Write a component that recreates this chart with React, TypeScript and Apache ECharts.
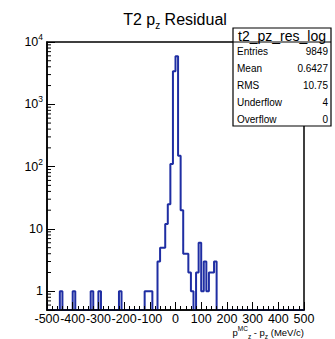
import React, { useEffect, useRef } from "react";
import * as echarts from "echarts";

const X_MIN = -500;
const X_MAX = 500;
const X_INTERVAL = 100;
const BIN_WIDTH = 10;
const Y_MIN = 0.5;
const Y_MAX = 10000;

// non-empty bins: lower edge and count
const binStarts = [-450, -400, -330, -300, -220, -120, -110, -100, -70, -60, -50, -40, -30, -20, -10, 0, 10, 20, 30, 40, 50, 60, 80, 90, 100, 110, 120, 130, 140, 150];
const binCounts = [1, 1, 1, 1, 1, 1, 1, 1, 3, 5, 5, 12, 25, 110, 3400, 5900, 150, 20, 4, 4, 2, 1, 2, 6, 1, 3, 1, 2, 2, 3];

const statsTitle = "t2_pz_res_log";
const statsLabels = ["Entries", "Mean", "RMS", "Underflow", "Overflow"];
const statsValues = ["9849", "0.6427", "10.75", "4", "0"];

const FONT = "'Liberation Sans', Arial, sans-serif";
const LINE_COLOR = "#1f2ea3";

export default function App() {
  const ref = useRef<HTMLDivElement>(null);

  useEffect(() => {
    if (!ref.current) return;
    const chart = echarts.init(ref.current, null, { renderer: "svg" });

    const nBins = Math.round((X_MAX - X_MIN) / BIN_WIDTH);
    const counts: number[] = new Array(nBins).fill(0);
    binStarts.forEach((s, i) => {
      const idx = Math.round((s - X_MIN) / BIN_WIDTH);
      counts[idx] = binCounts[i];
    });
    const stepData: number[][] = [[X_MIN, Y_MIN]];
    counts.forEach((c, i) => {
      const lo = X_MIN + i * BIN_WIDTH;
      const v = c > 0 ? c : Y_MIN;
      stepData.push([lo, v], [lo + BIN_WIDTH, v]);
    });
    stepData.push([X_MAX, Y_MIN]);

    const minorY: number[][] = [];
    for (let e = -1; e < 4; e++) {
      for (let m = 2; m <= 9; m++) {
        const v = m * Math.pow(10, e);
        if (v > Y_MIN && v < Y_MAX) minorY.push([X_MIN, v]);
      }
    }

    const statsGraphics: any[] = [];
    const bx = 233, by = 28, bw = 98, bh = 98, sep = 42;
    statsGraphics.push({
      type: "rect",
      z: 100,
      shape: { x: bx, y: by, width: bw, height: bh },
      style: { fill: "#fff", stroke: "#000", lineWidth: 1.2 },
    });
    statsGraphics.push({
      type: "line",
      z: 101,
      shape: { x1: bx, y1: sep, x2: bx + bw, y2: sep },
      style: { stroke: "#000", lineWidth: 1 },
    });
    statsGraphics.push({
      type: "text",
      z: 102,
      style: {
        text: statsTitle,
        x: bx + bw / 2,
        y: (by + sep) / 2 + 0.5,
        align: "center",
        verticalAlign: "middle",
        font: `14px ${FONT}`,
        fill: "#000",
      },
    });
    statsLabels.forEach((lab, i) => {
      const y = 51 + i * 17.1;
      statsGraphics.push({
        type: "text",
        z: 102,
        style: { text: lab, x: bx + 4, y, align: "left", verticalAlign: "middle", font: `10px ${FONT}`, fill: "#000" },
      });
      statsGraphics.push({
        type: "text",
        z: 102,
        style: { text: statsValues[i], x: bx + bw - 3, y, align: "right", verticalAlign: "middle", font: `10px ${FONT}`, fill: "#000" },
      });
    });

    chart.setOption({
      animation: false,
      backgroundColor: "#fff",
      grid: {
        left: 47,
        right: 31,
        top: 42,
        bottom: 29,
        show: true,
        borderColor: "#000",
        borderWidth: 1.5,
      },
      xAxis: {
        type: "value",
        min: X_MIN,
        max: X_MAX,
        interval: X_INTERVAL,
        z: 5,
        axisLine: { show: true, onZero: false, lineStyle: { color: "#000", width: 1.5 } },
        axisTick: { show: true, inside: true, length: 8, lineStyle: { color: "#000", width: 1 } },
        minorTick: { show: true, splitNumber: 5, length: 4, lineStyle: { color: "#000", width: 1 } },
        splitLine: { show: false },
        axisLabel: { color: "#000", fontSize: 12.5, fontFamily: FONT, margin: 2 },
      },
      yAxis: {
        type: "log",
        logBase: 10,
        min: Y_MIN,
        max: Y_MAX,
        z: 5,
        axisLine: { show: true, onZero: false, lineStyle: { color: "#000", width: 1.5 } },
        axisTick: { show: true, inside: true, length: 8, lineStyle: { color: "#000", width: 1 } },
        minorTick: { show: false },
        splitLine: { show: false },
        axisLabel: {
          color: "#000",
          fontSize: 12.5,
          fontFamily: FONT,
          margin: 4,
          formatter: (v: number) => {
            const e = Math.round(Math.log10(v));
            if (Math.abs(v - Math.pow(10, e)) > 1e-6 * v) return "";
            if (e === 0) return "1";
            if (e === 1) return "10";
            return `{b|10}{s|${e}}`;
          },
          rich: {
            b: { fontSize: 12.5, fontFamily: FONT, color: "#000" },
            s: { fontSize: 8.5, fontFamily: FONT, color: "#000", padding: [0, 0, 10, 0] },
          },
        },
      },
      series: [
        {
          type: "line",
          data: stepData,
          showSymbol: false,
          symbol: "none",
          z: 2,
          lineStyle: { color: LINE_COLOR, width: 2 },
        },
        {
          type: "custom",
          data: minorY,
          z: 6,
          silent: true,
          renderItem: (params: any, api: any) => {
            const p = api.coord([api.value(0), api.value(1)]);
            return {
              type: "line",
              shape: { x1: p[0], y1: p[1], x2: p[0] + 4, y2: p[1] },
              style: { stroke: "#000", lineWidth: 1 },
            };
          },
        },
      ],
      graphic: [
        {
          type: "text",
          z: 50,
          style: {
            text: "{a|T2 p}{s|z}{a| Residual}",
            x: 175,
            y: 19,
            align: "center",
            verticalAlign: "middle",
            rich: {
              a: { fontSize: 16, fontFamily: FONT, fill: "#000", color: "#000" },
              s: { fontSize: 10, fontFamily: FONT, fill: "#000", color: "#000", padding: [12, 0, 0, 0] },
            },
          },
        },
        {
          type: "text",
          z: 50,
          style: {
            text: "{a|p}{s|MC}{t|z}{a| - p}{t|z}{a| (MeV/c)}",
            x: 304,
            y: 332,
            align: "right",
            verticalAlign: "middle",
            rich: {
              a: { fontSize: 9.5, fontFamily: FONT, color: "#000" },
              s: { fontSize: 6.5, fontFamily: FONT, color: "#000", padding: [0, 0, 8, 0] },
              t: { fontSize: 6.5, fontFamily: FONT, color: "#000", padding: [8, 0, 0, 0] },
            },
          },
        },
        ...statsGraphics,
      ],
    });

    return () => chart.dispose();
  }, []);

  return (
    <div
      ref={ref}
      style={{ position: "absolute", left: 0, top: 0, width: 335, height: 339, background: "#fff" }}
    />
  );
}
